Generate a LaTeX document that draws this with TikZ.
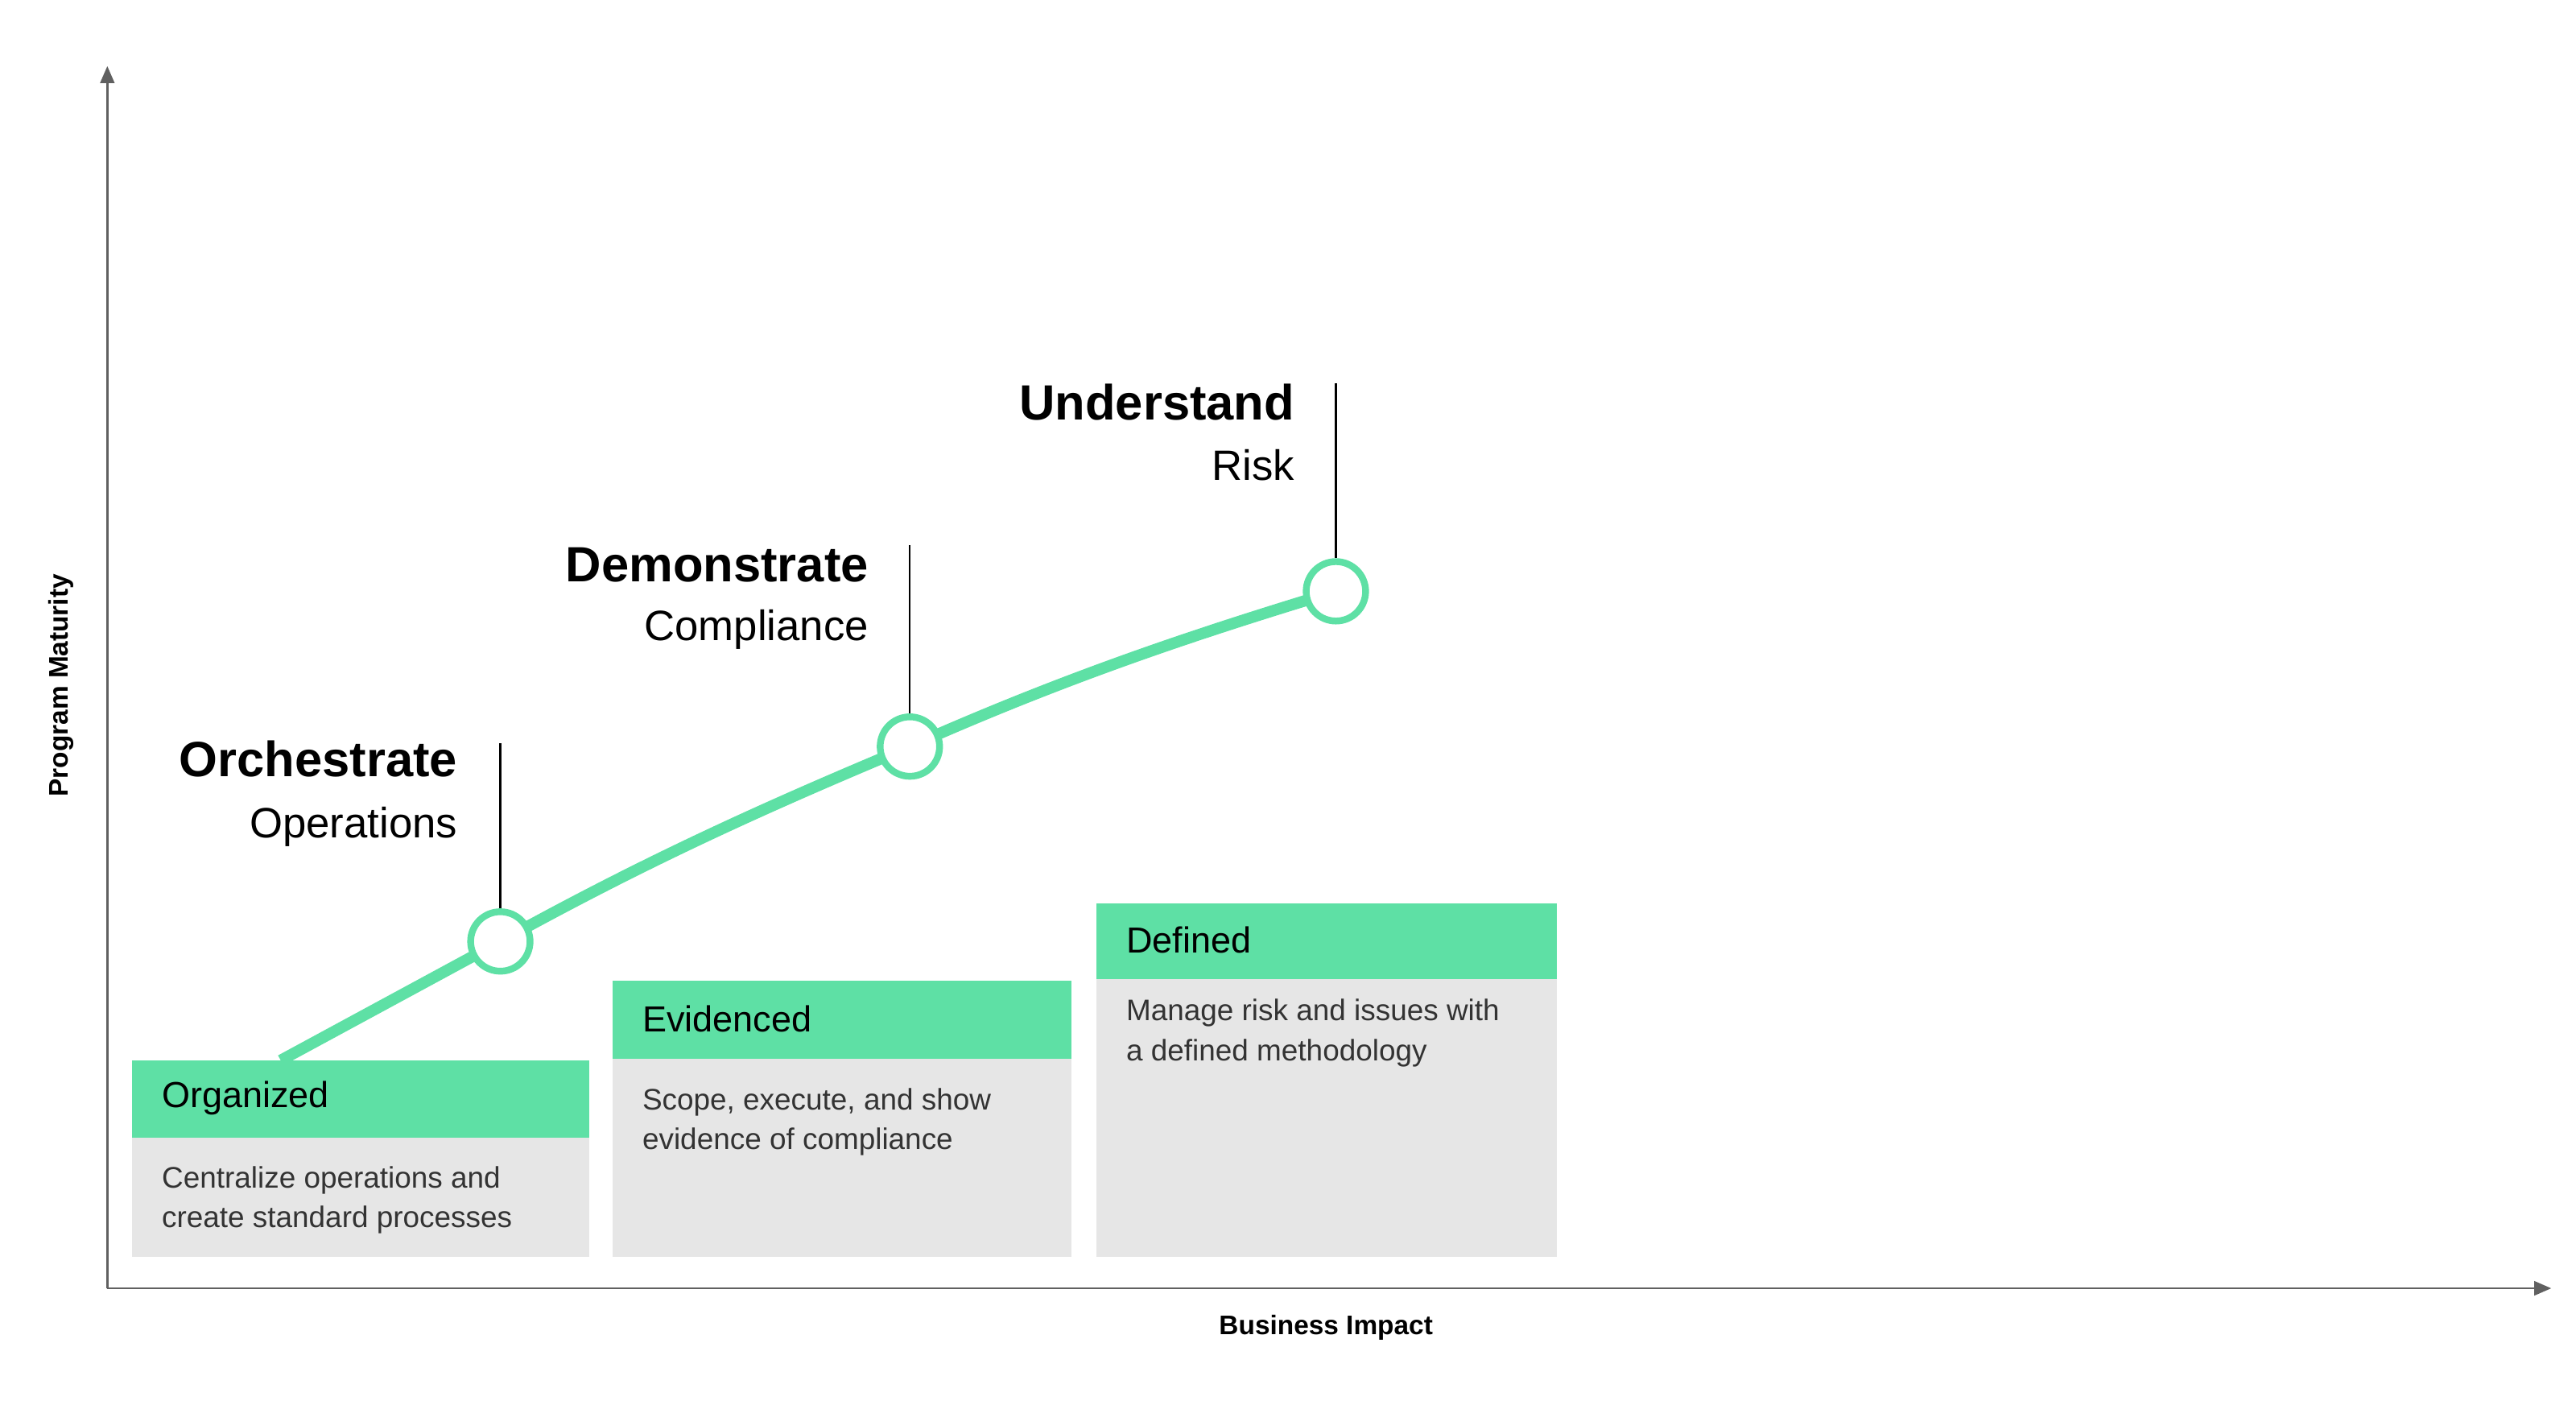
\documentclass[tikz,border=0pt]{standalone}
\usepackage{fontspec}
\setmainfont{Liberation Sans}
\usetikzlibrary{arrows.meta}
\definecolor{grn}{HTML}{5EE0A5}
\definecolor{gbox}{HTML}{E6E6E6}
\definecolor{axc}{HTML}{606060}
\definecolor{txt}{HTML}{333333}
\begin{document}
\begin{tikzpicture}[x=0.020513cm,y=-0.020513cm,
  ax/.style={draw=axc,line width=0.7pt,-{Triangle[length=6pt,width=5pt]}},
  axl/.style={font=\fontsize{9.5}{11}\selectfont\bfseries},
  head/.style={fill=grn,anchor=north west,inner sep=0pt},
  body/.style={fill=gbox,anchor=north west,inner sep=0pt},
  htxt/.style={anchor=west,font=\fontsize{12.8}{15}\selectfont},
  btxt/.style={anchor=north west,align=left,text=txt,font=\fontsize{10.5}{14}\selectfont},
  big/.style={anchor=base east,font=\fontsize{17.5}{20}\selectfont\bfseries},
  sub/.style={anchor=base east,font=\fontsize{15}{18}\selectfont},
  dot/.style={circle,draw=grn,fill=white,line width=2.4pt,minimum size=21pt,inner sep=0pt},
  pin/.style={draw=black,line width=0.6pt}]
\useasboundingbox (0,0) rectangle (1560,848);
\coordinate (o) at (65,780);
\coordinate (yt) at (65,40);
\coordinate (xt) at (1545,780);
\draw[ax] (o) -- (yt);
\draw[ax] (o) -- (xt);
\node[axl,rotate=90] (ylab) at (37,415) {Program Maturity};
\node[axl] (xlab) at (803,804) {Business Impact};
% boxes
\fill[gbox] (80,689) rectangle (357,761);
\fill[grn] (80,642) rectangle (357,689);
\fill[gbox] (371,641) rectangle (649,761);
\fill[grn] (371,594) rectangle (649,641);
\fill[gbox] (664,593) rectangle (943,761);
\fill[grn] (664,547) rectangle (943,593);
\node[htxt] (h1) at (92,665) {Organized};
\node[htxt] (h2) at (383,617) {Evidenced};
\node[htxt] (h3) at (676,569) {Defined};
\node[btxt] (b1) at (92,700) {Centralize operations and\\create standard processes};
\node[btxt] (b2) at (383,653) {Scope, execute, and show\\evidence of compliance};
\node[btxt] (b3) at (676,599) {Manage risk and issues with\\a defined methodology};
% curve
\coordinate (s) at (170,642);
\coordinate (p1) at (303,570);
\coordinate (p2) at (551,452);
\coordinate (p3) at (809,358);
\draw[grn,line width=4pt] (s) -- (p1) .. controls (390,522) and (460,490) .. (p2) .. controls (650,408) and (730,382) .. (p3);
\node[dot] (d1) at (p1) {};
\node[dot] (d2) at (p2) {};
\node[dot] (d3) at (p3) {};
\coordinate (t1) at (303,450);
\coordinate (t2) at (551,330);
\coordinate (t3) at (809,232);
\draw[pin] (t1) -- (d1);
\draw[pin] (t2) -- (d2);
\draw[pin] (t3) -- (d3);
\node[big] (l1) at (283,470) {Orchestrate};
\node[sub] (s1) at (283,507) {Operations};
\node[big] (l2) at (532,352) {Demonstrate};
\node[sub] (s2) at (532,388) {Compliance};
\node[big] (l3) at (790,254) {Understand};
\node[sub] (s3) at (790,291) {Risk};
\end{tikzpicture}
\end{document}
